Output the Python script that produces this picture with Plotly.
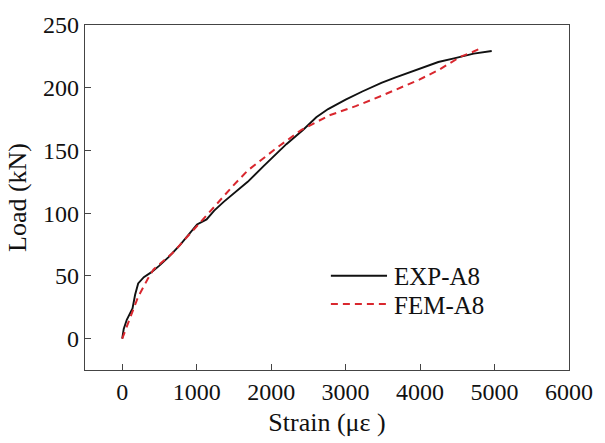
import plotly.graph_objects as go

# Load–strain response of specimen A8: test record vs. finite-element model
exp_strain = [0, 20, 61, 138, 173, 214, 290, 393, 495, 622, 775, 929, 1005, 1133,
              1235, 1362, 1541, 1685, 1898, 2051, 2121, 2204, 2431, 2606, 2765, 2914,
              3000, 3224, 3480, 3663, 4005, 4245, 4456, 4720, 4962]
exp_load = [0, 7.7, 15, 24, 35, 44, 49, 53, 58, 65, 74.6, 85, 91, 95,
            102, 109, 118, 125, 137.5, 146, 149.6, 155, 166.5, 176.5, 183, 188,
            190.5, 197, 203.8, 208, 215.5, 220.5, 223.4, 227.2, 229.3]

fem_strain = [0, 87, 214, 342, 418, 673, 980, 1235, 1490, 1685, 2078, 2408, 2782,
              3135, 3480, 3735, 3990, 4245, 4544, 4704, 4830]
fem_load = [0, 14, 33.4, 47.5, 55, 68, 88.7, 105, 122, 134, 152.2, 166.5, 178,
            185.3, 193.5, 200, 206.5, 214, 224.7, 228.5, 231.9]

x_ticks = [0, 1000, 2000, 3000, 4000, 5000, 6000]
y_ticks = [0, 50, 100, 150, 200, 250]

series_names = ["EXP-A8", "FEM-A8"]
black = "#111111"
red = "#d9272e"
font = "Liberation Serif, Times New Roman, serif"

fig = go.Figure()
fig.add_trace(go.Scatter(x=exp_strain, y=exp_load, mode="lines", name=series_names[0],
                         line=dict(color=black, width=1.9), showlegend=False))
fig.add_trace(go.Scatter(x=fem_strain, y=fem_load, mode="lines", name=series_names[1],
                         line=dict(color=red, width=2, dash="7px,5px"), showlegend=False))

# Hand-drawn legend with long line samples
legend_rows = [(series_names[0], black, "solid", 0.273),
               (series_names[1], red, "7px,5px", 0.191)]
for label, color, dash, yp in legend_rows:
    fig.add_shape(type="line", xref="paper", yref="paper", x0=0.508, x1=0.624,
                  y0=yp, y1=yp, line=dict(color=color, width=2, dash=dash))
    fig.add_annotation(xref="paper", yref="paper", x=0.634, y=yp - 0.003, text=label,
                       showarrow=False, xanchor="left", yanchor="middle",
                       font=dict(family=font, size=25, color="#111111"))

axis_common = dict(showline=True, linecolor="#444444", linewidth=1.3, mirror=True,
                   ticks="inside", ticklen=6, tickwidth=1.3, tickcolor="#444444",
                   showgrid=False, zeroline=False,
                   tickfont=dict(family=font, size=24, color="#111111"))

fig.update_xaxes(range=[-500, 6000], tickvals=x_ticks,
                 title=dict(text="Strain (\u03bc\u03b5 )", standoff=8,
                            font=dict(family=font, size=26, color="#111111")),
                 **axis_common)
fig.update_yaxes(range=[-25, 250], tickvals=y_ticks,
                 title=dict(text="Load (kN)", standoff=8,
                            font=dict(family=font, size=26, color="#111111")),
                 **axis_common)

fig.update_layout(width=605, height=443, margin=dict(l=85, r=28, t=21, b=67),
                  paper_bgcolor="white", plot_bgcolor="white")

fig.write_html("out.html")
